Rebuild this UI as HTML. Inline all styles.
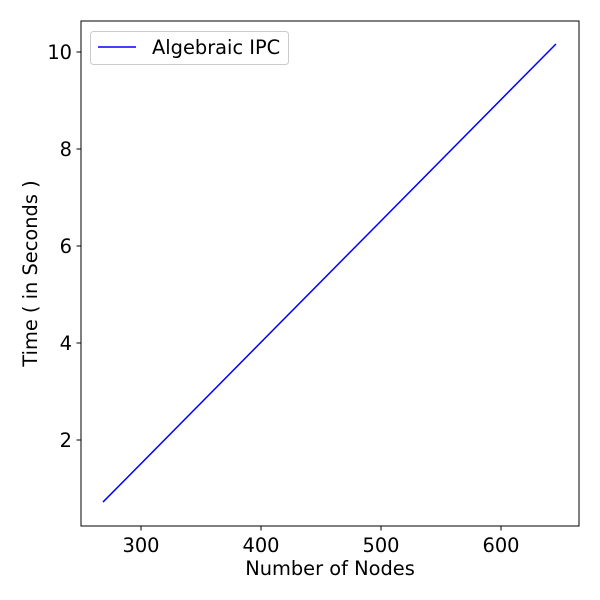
<!DOCTYPE html>
<html><head><meta charset="utf-8"><style>
body{margin:0;background:#fff}
svg{display:block;font-family:"DejaVu Sans","Liberation Sans",sans-serif}
</style></head><body>
<svg id="chart" width="600" height="600">
<rect x="0" y="0" width="600" height="600" fill="#fff"/>
<g id="plot"></g>
</svg>
<script>
const xValues = [268.3, 645.8];
const yValues = [0.72, 10.165];
const xTicks = [300, 400, 500, 600];
const yTicks = [2, 4, 6, 8, 10];
const seriesName = "Algebraic IPC";

const L=81,R=579,T=21,B=526;
const FS=19.4;
function sx(v){return 141+(v-300)*1.2;}
function sy(v){return 440-(v-2)*48.5;}
const NS="http://www.w3.org/2000/svg";
const g=document.getElementById('plot');
function mk(tag,attrs,parent){const e=document.createElementNS(NS,tag);for(const k in attrs)e.setAttribute(k,attrs[k]);(parent||g).appendChild(e);return e;}

const pts=xValues.map((x,i)=>sx(x)+','+sy(yValues[i])).join(' ');
const line=mk('polyline',{points:pts,fill:'none',stroke:'#0000ff','stroke-width':1.5});



const frame=mk('rect',{x:L,y:T,width:R-L,height:B-T,fill:'none',stroke:'#000','stroke-width':1});



xTicks.forEach(t=>{
  const x=sx(t);
  const tk=mk('line',{x1:x,x2:x,y1:B,y2:B+4.5,stroke:'#000'});
  
  
  const tx=mk('text',{x:x,y:B+26,'font-size':FS,'text-anchor':'middle',fill:'#000'});
  tx.textContent=t;
  
  
});
yTicks.forEach(t=>{
  const y=sy(t);
  const tk=mk('line',{x1:L-4.5,x2:L,y1:y,y2:y,stroke:'#000'});
  
  
  const tx=mk('text',{x:L-9,y:y+7,'font-size':FS,'text-anchor':'end',fill:'#000'});
  tx.textContent=t;
  
  
});

const xl=mk('text',{x:(L+R)/2,y:575,'font-size':FS,'text-anchor':'middle'});
xl.textContent='Number of Nodes';


const yl=mk('text',{x:0,y:0,'font-size':FS,'text-anchor':'middle',transform:'translate(37,'+((T+B)/2)+') rotate(-90)'});
yl.textContent='Time ( in Seconds )';



const lg=mk('g',{});


mk('rect',{x:90.5,y:31.5,width:198,height:33,rx:3,fill:'#fff',stroke:'#ccc'},lg);
mk('line',{x1:98,x2:136,y1:47,y2:47,stroke:'#0000ff','stroke-width':1.5},lg);
const lt=mk('text',{x:152,y:54,'font-size':FS},lg);
lt.textContent=seriesName;


</script>
</body></html>
